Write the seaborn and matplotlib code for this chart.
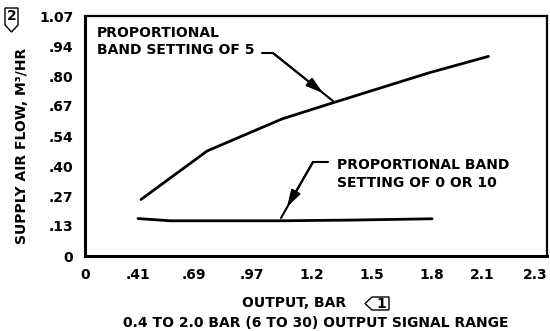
import numpy as np
import pandas as pd
import seaborn as sns
import matplotlib.pyplot as plt
from matplotlib.patches import Polygon

# Tick labels as printed on the chart
x_ticks = [0, 0.41, 0.69, 0.97, 1.2, 1.5, 1.8, 2.1, 2.3]
x_tick_labels = ['0', '.41', '.69', '.97', '1.2', '1.5', '1.8', '2.1', '2.3']
y_ticks = [0, 0.134, 0.2675, 0.401, 0.535, 0.669, 0.8025, 0.936, 1.07]
y_tick_labels = ['0', '.13', '.27', '.40', '.54', '.67', '.80', '.94', '1.07']

# Curve for proportional band setting of 5
band5_output = [0.425, 0.753, 1.085, 1.29, 1.79, 2.12]
band5_flow = [0.252, 0.468, 0.611, 0.679, 0.818, 0.890]

# Curve for proportional band setting of 0 or 10
band0_output = [0.41, 0.57, 1.077, 1.39, 1.8]
band0_flow = [0.167, 0.157, 0.157, 0.160, 0.166]

# the drawing's x axis is not linear: tick spacing measured from the sheet
x_tick_spacing = np.array([0, 53, 109, 167, 227, 287, 347, 397, 462]) / 462.0

FS = 10


def forward(x):
    return np.interp(x, x_ticks, x_tick_spacing)


def inverse(u):
    return np.interp(u, x_tick_spacing, x_ticks)


def px(x, y):
    """ pixel position on the 550x331 sheet -> figure fraction """
    return x / 550.0, 1 - y / 331.0


sns.set_theme(style='white')
plt.rcParams['font.family'] = ['DejaVu Sans']
plt.rcParams['font.weight'] = 'bold'
for key in ['text.color', 'axes.labelcolor', 'xtick.color', 'ytick.color']:
    plt.rcParams[key] = 'black'

fig = plt.figure(figsize=(5.5, 3.31), dpi=100)
ax = fig.add_axes([85 / 550, 75 / 331, 462 / 550, 240 / 331])
ax.set_xscale('function', functions=(forward, inverse))

df5 = pd.DataFrame({'output': band5_output, 'flow': band5_flow})
df0 = pd.DataFrame({'output': band0_output, 'flow': band0_flow})
sns.lineplot(data=df5, x='output', y='flow', sort=False, color='black', linewidth=2, ax=ax)
sns.lineplot(data=df0, x='output', y='flow', sort=False, color='black', linewidth=2, ax=ax)

ax.set_xlim(0, 2.3)
ax.set_ylim(0, 1.07)
ax.set_xticks(x_ticks)
ax.set_xticklabels(x_tick_labels, fontsize=FS, fontweight='bold')
ax.set_yticks(y_ticks)
ax.set_yticklabels(y_tick_labels, fontsize=FS, fontweight='bold')
ax.get_xticklabels()[-1].set_horizontalalignment('right')
ax.set_xlabel('')
ax.set_ylabel('')
ax.tick_params(axis='x', direction='inout', length=9, width=1.5, pad=4)
ax.tick_params(axis='y', direction='out', length=7, width=1.5, pad=1.5)
for t in (ax.xaxis.get_major_ticks()[0], ax.xaxis.get_major_ticks()[-1],
          ax.yaxis.get_major_ticks()[0], ax.yaxis.get_major_ticks()[-1]):
    t.tick1line.set_visible(False)

for side in ['left', 'bottom']:
    ax.spines[side].set_linewidth(2.2)
for side in ['top', 'right']:
    ax.spines[side].set_linewidth(1.6)
for s in ax.spines.values():
    s.set_color('black')

# annotation texts
fig.text(*px(97, 33), 'PROPORTIONAL', fontsize=FS, fontweight='bold', va='center', ha='left')
fig.text(*px(97, 50), 'BAND SETTING OF 5', fontsize=FS, fontweight='bold', va='center', ha='left')
fig.text(*px(337, 165), 'PROPORTIONAL BAND', fontsize=FS, fontweight='bold', va='center', ha='left')
fig.text(*px(337, 183), 'SETTING OF 0 OR 10', fontsize=FS, fontweight='bold', va='center', ha='left')

# leader lines with arrowheads
arrow = dict(arrowstyle='-|>,head_length=1.0,head_width=0.3', color='black', lw=1.5,
             mutation_scale=10, shrinkA=0, shrinkB=0)
line = dict(arrowstyle='-', color='black', lw=1.5, shrinkA=0, shrinkB=0)
for pts, tip in [([(262, 53), (273, 53), (333, 101)], (323, 93)),
                 ([(328, 162), (313, 162), (281, 218)], (287, 207))]:
    for a, b in zip(pts[:-1], pts[1:]):
        ax.annotate('', xy=px(*b), xytext=px(*a), xycoords='figure fraction',
                    textcoords='figure fraction', arrowprops=line)
    ax.annotate('', xy=px(*tip), xytext=px(*pts[1]), xycoords='figure fraction',
                textcoords='figure fraction', arrowprops=arrow)

# axis titles
fig.text(*px(22, 146), 'SUPPLY AIR FLOW, M³/HR', rotation=90, fontsize=FS,
         fontweight='bold', va='center', ha='center')
fig.text(*px(294, 303), 'OUTPUT, BAR', fontsize=FS, fontweight='bold', va='center', ha='center')
fig.text(*px(316, 323), '0.4 TO 2.0 BAR (6 TO 30) OUTPUT SIGNAL RANGE', fontsize=FS,
         fontweight='bold', va='center', ha='center')

# note flags
flag1 = [px(365, 303.5), px(372, 297), px(389, 297), px(389, 310), px(372, 310)]
flag2 = [px(5, 8), px(18, 8), px(18, 25), px(11.5, 32), px(5, 25)]
for verts in (flag1, flag2):
    fig.patches.append(Polygon(verts, closed=True, fill=False, edgecolor='black',
                               lw=1.0, transform=fig.transFigure))
fig.text(*px(381, 303.5), '1', fontsize=FS, fontweight='bold', va='center', ha='center')
fig.text(*px(11.5, 16), '2', fontsize=FS, fontweight='bold', va='center', ha='center')

fig.savefig('out.png', dpi=100)
